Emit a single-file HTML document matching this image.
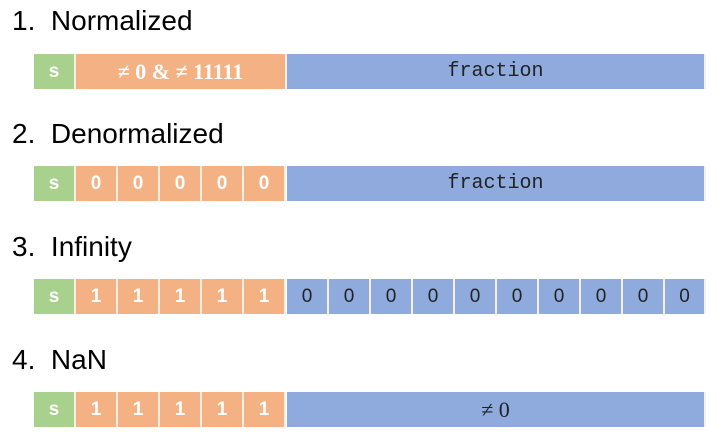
<!DOCTYPE html>
<html><head><style>
body{margin:0;width:728px;height:448px;background:#fff;position:relative;overflow:hidden;font-family:"Liberation Sans",sans-serif}
.t{position:absolute;left:12px;font-size:28px;color:#000;line-height:30px}
.c{position:absolute;height:35px;box-sizing:border-box;border-right:2px solid #fbeee4;display:flex;align-items:center;justify-content:center;font-size:19px}
.g{background:#a9d18e;color:#fff;font-weight:bold}
.o{background:#f4b183;color:#fff;font-weight:bold}
.b{background:#8faadc;color:#222}
.ser{font-family:"Liberation Serif",serif;font-size:22px}
.mono{font-family:"Liberation Mono",monospace;font-size:20px}
</style></head><body>
<div class="t" style="top:6px">1.&nbsp; Normalized</div>
<div class="t" style="top:119px">2.&nbsp; Denormalized</div>
<div class="t" style="top:232px">3.&nbsp; Infinity</div>
<div class="t" style="top:345px">4.&nbsp; NaN</div>
<div id="rows"></div>
<script>
var html='';
function cell(x,y,w,cls,txt){html+='<div class="c '+cls+'" style="left:'+x+'px;top:'+y+'px;width:'+w+'px">'+txt+'</div>';}
var ys=[54,166,279,392];
ys.forEach(function(y,i){
 cell(34,y,42,'g','s');
 if(i==0){cell(76,y,211,'o ser','&ne; 0 &amp; &ne; 11111');}
 else{for(var k=0;k<5;k++)cell(76+42*k,y,42,'o',i==1?'0':'1');}
 if(i==2){for(var k=0;k<10;k++)cell(287+42*k,y,k==9?419-42*9:42,'b','0');}
 else if(i==3){cell(287,y,419,'b ser','&ne; 0');}
 else cell(287,y,419,'b mono','fraction');
});
document.getElementById('rows').innerHTML=html;
</script>
</body></html>
